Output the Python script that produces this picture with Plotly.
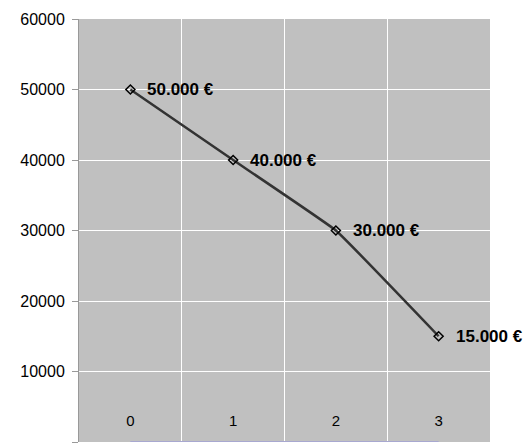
import plotly.graph_objects as go

categories = ["0", "1", "2", "3"]
values = [50000, 40000, 30000, 15000]
labels = ["50.000 €", "40.000 €", "30.000 €", "15.000 €"]
baseline = [0, 0, 0, 0]
y_ticks = [0, 10000, 20000, 30000, 40000, 50000, 60000]

fig = go.Figure()
fig.add_trace(go.Scatter(
    x=categories, y=baseline, mode="lines", xaxis="x2",
    line=dict(color="#a8a8d0", width=2), hoverinfo="skip", showlegend=False,
))
fig.add_trace(go.Scatter(
    x=categories, y=values, mode="lines+markers",
    line=dict(color="#333333", width=2.5, shape="spline", smoothing=0.25),
    marker=dict(symbol="diamond-open", size=7, color="black", line=dict(width=1.5, color="black")),
    showlegend=False,
))
for c, v, t in zip(categories, values, labels):
    fig.add_annotation(x=c, y=v, text="<b>" + t + "</b>", showarrow=False,
                       xanchor="left", yanchor="middle", xshift=15,
                       font=dict(family="Liberation Sans, Arial", size=17, color="black"))

fig.update_layout(
    width=528, height=443,
    margin=dict(l=79, r=38, t=19, b=1),
    paper_bgcolor="white", plot_bgcolor="#c0c0c0",
    font=dict(family="Liberation Sans, Arial", size=16, color="black"),
    xaxis=dict(
        type="category", range=[-0.5, 3.5], tickson="boundaries",
        showgrid=True, gridcolor="white", gridwidth=1,
        ticks="", showticklabels=False, showline=False, zeroline=False,
    ),
    xaxis2=dict(
        type="category", range=[-0.5, 3.5], overlaying="x", anchor="free",
        position=0.075, side="bottom", showgrid=False, ticks="",
        showline=False, zeroline=False,
        tickfont=dict(family="Liberation Sans, Arial", size=15, color="black"),
    ),
    yaxis=dict(
        range=[0, 60000], tickvals=y_ticks, tickformat="d",
        showgrid=True, gridcolor="white", gridwidth=1,
        ticks="outside", ticklen=6, tickcolor="#999999", ticklabelstandoff=4,
        showline=True, linecolor="#999999", linewidth=1, zeroline=False,
    ),
)
fig.write_html("out.html")
